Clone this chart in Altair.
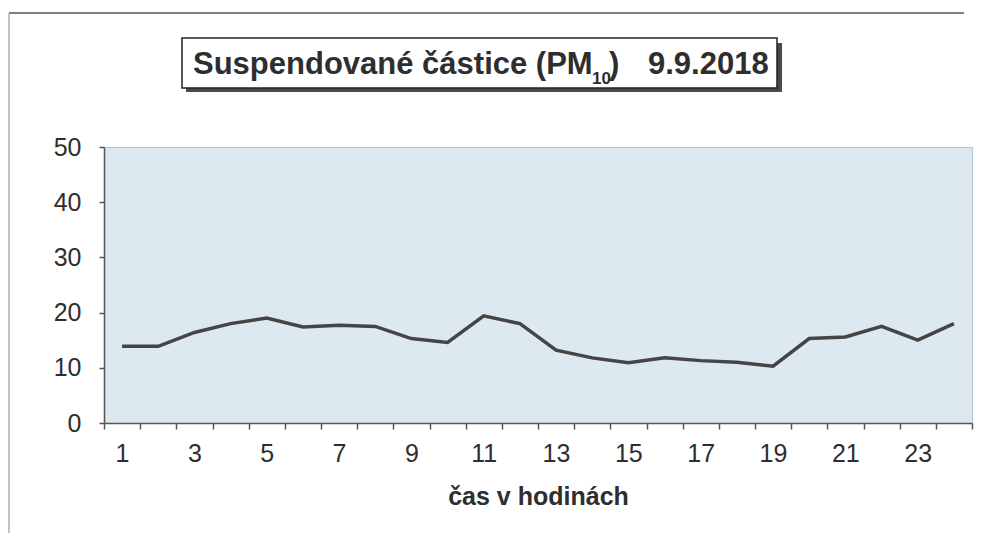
import altair as alt
import pandas as pd

hours = list(range(1, 25))
pm10 = [13.9, 13.9, 16.4, 18.0, 19.0, 17.4, 17.7, 17.5, 15.3, 14.6, 19.4, 18.0,
        13.2, 11.8, 10.9, 11.8, 11.3, 11.0, 10.3, 15.3, 15.6, 17.5, 15.0, 18.0]
y_ticks = [0, 10, 20, 30, 40, 50]
title_main = "Suspendované částice (PM"
title_sub = "10"
title_close = ")"
title_date = "9.9.2018"
x_title = "čas v hodinách"

df = pd.DataFrame({"hodina": hours, "pm10": pm10})
one = pd.DataFrame({"k": [0]})

W, H = 868, 276
FONT = "Liberation Sans"
TXT = "#2e2e2e"

tick_vals = [h - 0.5 for h in hours] + [24.5]

line = alt.Chart(df).mark_line(color="#454545", strokeWidth=3.5).encode(
    x=alt.X("hodina:Q",
            scale=alt.Scale(domain=[0.5, 24.5], nice=False, zero=False),
            axis=alt.Axis(values=tick_vals,
                          labelExpr="((datum.value + 0.5) % 2 == 1 && datum.value < 24) ? format(datum.value + 0.5, 'd') : ''",
                          labelOffset=18, labelFlush=False, labelOverlap=False, labelBound=False,
                          labelPadding=12, tickSize=6, title=x_title, titlePadding=18,
                          grid=False)),
    y=alt.Y("pm10:Q",
            scale=alt.Scale(domain=[0, 50], nice=False),
            axis=alt.Axis(values=y_ticks, title=None, grid=False, tickSize=5,
                          labelPadding=18, format="d")),
)

frame_top = alt.Chart(one).mark_rule(stroke="#555555", strokeWidth=1.5).encode(
    x=alt.value(-95), x2=alt.value(860), y=alt.value(-134))
frame_left = alt.Chart(one).mark_rule(stroke="#9a9a9a", strokeWidth=1.2).encode(
    x=alt.value(-95), y=alt.value(-134), y2=alt.value(400))

shadow = alt.Chart(one).mark_rect(fill="#4a4a4a").encode(
    x=alt.value(82), x2=alt.value(678), y=alt.value(-104), y2=alt.value(-55))
box = alt.Chart(one).mark_rect(fill="white", stroke="#222222", strokeWidth=1.5).encode(
    x=alt.value(78), x2=alt.value(673), y=alt.value(-109), y2=alt.value(-59))

def txt(s, x, y, size):
    return alt.Chart(pd.DataFrame({"t": [s]})).mark_text(
        font=FONT, fontSize=size, fontWeight="bold", color=TXT,
        align="left", baseline="alphabetic").encode(
        text="t:N", x=alt.value(x), y=alt.value(y))

t1 = txt(title_main, 89, -73, 31)
t2 = txt(title_sub, 488, -63, 17)
t3 = txt(title_close, 505, -73, 31)
t4 = txt(title_date, 544, -73, 31)

chart = alt.layer(frame_top, frame_left, shadow, box, t1, t2, t3, t4, line).properties(
    width=W, height=H,
    autosize=alt.AutoSizeParams(type="none"),
    padding={"left": 96, "top": 139, "right": 11, "bottom": 110},
).configure_view(
    fill="#dce9f1", stroke="#b8c4cc", strokeWidth=1
).configure_axis(
    domainColor="#555555", domainWidth=1.5, tickColor="#555555", tickWidth=1.5,
    labelFont=FONT, labelFontSize=25, labelColor=TXT,
    titleFont=FONT, titleFontSize=25, titleFontWeight="bold", titleColor=TXT,
)

chart.save("out.html", embed_options={"renderer": "svg", "actions": False})
